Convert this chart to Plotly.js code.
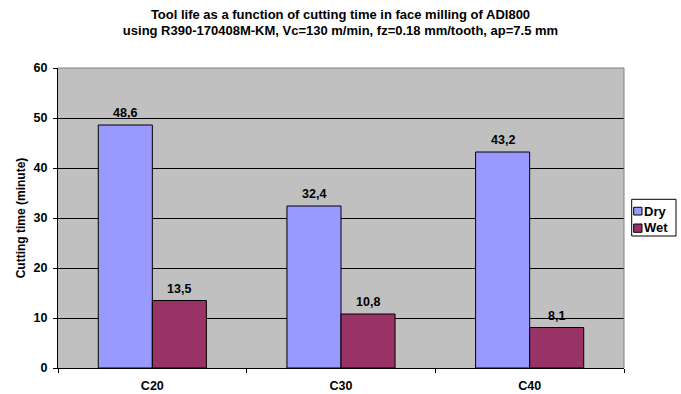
<!DOCTYPE html>
<html>
<head>
<meta charset="utf-8">
<script src="https://cdn.plot.ly/plotly-3.0.1.min.js"></script>
<style>html,body{margin:0;padding:0;background:#fff;}#chart{width:681px;height:394px;}</style>
</head>
<body>
<div id="chart"></div>
<script>
const categories = ["C20", "C30", "C40"];
const seriesNames = ["Dry", "Wet"];
const dryValues = [48.6, 32.4, 43.2];
const wetValues = [13.5, 10.8, 8.1];
const dryLabels = ["48,6", "32,4", "43,2"];
const wetLabels = ["13,5", "10,8", "8,1"];
const yTicks = [0, 10, 20, 30, 40, 50, 60];

const FONT = "Arial, 'Liberation Sans', sans-serif";
const DRY_COLOR = "#9999FF";
const WET_COLOR = "#993366";
const LBL = {family: FONT, size: 12.5, color: "#000", weight: "bold"};

const traces = [
  {
    type: "bar", name: seriesNames[0], x: categories, y: dryValues,
    marker: {color: DRY_COLOR, line: {color: "#000", width: 1}}
  },
  {
    type: "bar", name: seriesNames[1], x: categories, y: wetValues,
    marker: {color: WET_COLOR, line: {color: "#000", width: 1}}
  }
];

const annotations = [];
categories.forEach((c, i) => {
  annotations.push({x: c, y: dryValues[i], xref: "x", yref: "y", text: dryLabels[i],
    showarrow: false, yanchor: "bottom", xanchor: "center", xshift: -27, yshift: 3, font: LBL});
  annotations.push({x: c, y: wetValues[i], xref: "x", yref: "y", text: wetLabels[i],
    showarrow: false, yanchor: "bottom", xanchor: "center", xshift: 27, yshift: 3, font: LBL});
});
// custom compact legend
const legFont = {family: FONT, size: 13, color: "#000", weight: "bold"};
annotations.push({xref: "paper", yref: "paper", x: 1.0318, y: 0.5233, xanchor: "left", yanchor: "middle",
  text: seriesNames[0], showarrow: false, font: legFont});
annotations.push({xref: "paper", yref: "paper", x: 1.0318, y: 0.4667, xanchor: "left", yanchor: "middle",
  text: seriesNames[1], showarrow: false, font: legFont});

const layout = {
  width: 681, height: 394,
  margin: {l: 58, r: 57, t: 68, b: 26},
  paper_bgcolor: "#fff",
  plot_bgcolor: "#C0C0C0",
  font: {family: FONT, size: 12, color: "#000", weight: "bold"},
  title: {
    text: "Tool life as a function of cutting time in face milling of ADI800<br>using R390-170408M-KM, Vc=130 m/min, fz=0.18 mm/tooth, ap=7.5 mm",
    font: {family: FONT, size: 13, color: "#000", weight: "bold"},
    x: 0.5, xanchor: "center", yref: "container", y: 0.953, yanchor: "top"
  },
  barmode: "group",
  bargap: 0.427,
  bargroupgap: 0,
  showlegend: false,
  xaxis: {
    type: "category", automargin: false,
    showline: true, linecolor: "#000", linewidth: 1,
    ticks: "outside", tickson: "boundaries", ticklen: 4, tickcolor: "#000",
    ticklabelstandoff: 6,
    tickfont: LBL,
    showgrid: false, zeroline: false, fixedrange: true
  },
  yaxis: {
    range: [0, 60], tickvals: yTicks, automargin: false,
    showline: true, linecolor: "#000", linewidth: 1,
    ticks: "outside", ticklen: 4, tickcolor: "#000",
    ticklabelstandoff: 3,
    showgrid: true, gridcolor: "#000", gridwidth: 1,
    zeroline: false,
    tickfont: LBL,
    title: {text: "Cutting time (minute)", standoff: 5,
      font: {family: FONT, size: 12, color: "#000", weight: "bold"}},
    fixedrange: true
  },
  annotations: annotations,
  shapes: [
    {type: "line", xref: "paper", yref: "paper", x0: 0, x1: 1, y0: 1, y1: 1,
     line: {color: "#808080", width: 1}},
    {type: "line", xref: "paper", yref: "paper", x0: 1, x1: 1, y0: 0, y1: 1,
     line: {color: "#808080", width: 1}},
    {type: "rect", xref: "paper", yref: "paper", x0: 1.0136, x1: 1.0919, y0: 0.44, y1: 0.5623,
     fillcolor: "#fff", line: {color: "#000", width: 1}},
    {type: "rect", xref: "paper", yref: "paper", x0: 1.0171, x1: 1.0318, y0: 0.51, y1: 0.5357,
     fillcolor: DRY_COLOR, line: {color: "#000", width: 1}},
    {type: "rect", xref: "paper", yref: "paper", x0: 1.0171, x1: 1.0318, y0: 0.4523, y1: 0.48,
     fillcolor: WET_COLOR, line: {color: "#000", width: 1}}
  ]
};

Plotly.newPlot("chart", traces, layout, {displayModeBar: false, staticPlot: true});
</script>
</body>
</html>
